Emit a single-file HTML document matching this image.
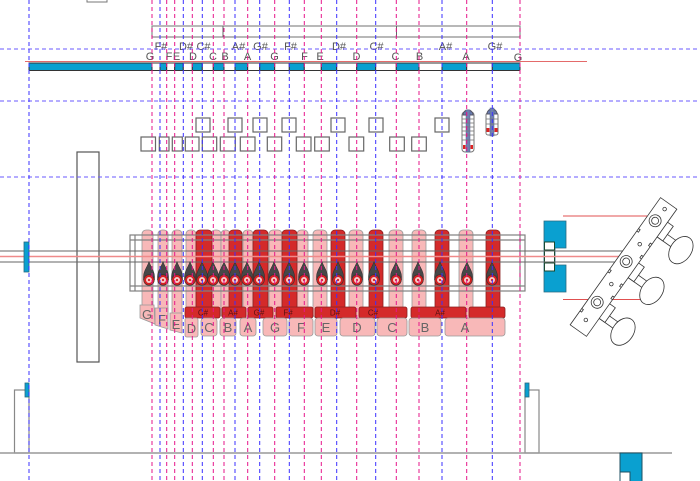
<!DOCTYPE html>
<html><head><meta charset="utf-8"><style>html,body{margin:0;padding:0;background:#fff;}svg{display:block;}</style></head>
<body>
<svg width="700" height="481" viewBox="0 0 700 481" xmlns="http://www.w3.org/2000/svg" xmlns:xlink="http://www.w3.org/1999/xlink" font-family="'Liberation Sans', Arial, sans-serif">
<defs>
<g id="peg">
<path d="M0,261.5 C1.2,266 5.5,271 5.5,276.5 L5.5,280 L-5.5,280 L-5.5,276.5 C-5.5,271 -1.2,266 0,261.5 Z" fill="#474747" stroke="#2a2a2a" stroke-width="0.5"/>
<circle cx="0" cy="280" r="5.3" fill="#d42020" stroke="#333" stroke-width="0.6"/>
<circle cx="0" cy="280" r="3" fill="#f8c8c8"/>
<circle cx="0" cy="280" r="1.1" fill="#d42020"/>
</g>
</defs>

<!-- top small rect -->
<rect x="87" y="-5" width="20" height="7" fill="#fff" stroke="#777"/>
<!-- top rect -->
<rect x="152" y="26" width="368" height="11" fill="#fff" stroke="#888" stroke-width="1.2"/>
<line x1="223" y1="26" x2="223" y2="37" stroke="#666"/>
<line x1="396.5" y1="26" x2="396.5" y2="37" stroke="#666"/>

<!-- top bar segments -->
<g stroke="#333" stroke-width="1">
<rect x="29" y="63" width="123" height="7.5" fill="#0aa0d0"/>
<rect x="152" y="63" width="8" height="7.5" fill="#fff"/>
<rect x="160" y="63" width="6.7" height="7.5" fill="#0aa0d0"/>
<rect x="166.7" y="63" width="8" height="7.5" fill="#fff"/>
<rect x="174.7" y="63" width="8.6" height="7.5" fill="#0aa0d0"/>
<rect x="183.3" y="63" width="9" height="7.5" fill="#fff"/>
<rect x="192.3" y="63" width="10" height="7.5" fill="#0aa0d0"/>
<rect x="202.3" y="63" width="11" height="7.5" fill="#fff"/>
<rect x="213.3" y="63" width="10.7" height="7.5" fill="#0aa0d0"/>
<rect x="224" y="63" width="11" height="7.5" fill="#fff"/>
<rect x="235" y="63" width="12.7" height="7.5" fill="#0aa0d0"/>
<rect x="247.7" y="63" width="12" height="7.5" fill="#fff"/>
<rect x="259.7" y="63" width="15" height="7.5" fill="#0aa0d0"/>
<rect x="274.7" y="63" width="14.6" height="7.5" fill="#fff"/>
<rect x="289.3" y="63" width="15" height="7.5" fill="#0aa0d0"/>
<rect x="304.3" y="63" width="17" height="7.5" fill="#fff"/>
<rect x="321.3" y="63" width="15.4" height="7.5" fill="#0aa0d0"/>
<rect x="336.7" y="63" width="20" height="7.5" fill="#fff"/>
<rect x="356.7" y="63" width="19" height="7.5" fill="#0aa0d0"/>
<rect x="375.7" y="63" width="20.6" height="7.5" fill="#fff"/>
<rect x="396.3" y="63" width="22.7" height="7.5" fill="#0aa0d0"/>
<rect x="419" y="63" width="23" height="7.5" fill="#fff"/>
<rect x="442" y="63" width="24.7" height="7.5" fill="#0aa0d0"/>
<rect x="466.7" y="63" width="25.6" height="7.5" fill="#fff"/>
<rect x="492.3" y="63" width="27.7" height="7.5" fill="#0aa0d0"/>
</g>
<line x1="25" y1="61.5" x2="587" y2="61.5" stroke="#e46a6a" stroke-width="1"/>

<!-- top labels -->
<g font-size="11" fill="#555" text-anchor="middle">
<text x="161" y="50">F#</text><text x="186" y="50">D#</text><text x="203.5" y="50">C#</text>
<text x="238.5" y="50">A#</text><text x="260.5" y="50">G#</text><text x="290.5" y="50">F#</text>
<text x="339" y="50">D#</text><text x="376.5" y="50">C#</text><text x="445.5" y="50">A#</text>
<text x="495" y="50">G#</text>
<text x="150" y="60">G</text><text x="169" y="60">F</text><text x="176.5" y="60">E</text>
<text x="193" y="60">D</text><text x="213" y="60">C</text><text x="225" y="60">B</text>
<text x="247.5" y="60">A</text><text x="274.5" y="60">G</text><text x="304.5" y="60">F</text>
<text x="320" y="60">E</text><text x="356.5" y="60">D</text><text x="395.5" y="60">C</text>
<text x="419.5" y="60">B</text><text x="466" y="60">A</text><text x="518" y="61">G</text>
</g>

<!-- middle boxes -->
<g fill="#fff" stroke="#666" stroke-width="1.2">
<rect x="196" y="118" width="14" height="14"/><rect x="228" y="118" width="14" height="14"/>
<rect x="253" y="118" width="14" height="14"/><rect x="282" y="118" width="14" height="14"/>
<rect x="331" y="118" width="14" height="14"/><rect x="369" y="118" width="14" height="14"/>
<rect x="435" y="118" width="14" height="14"/>
<rect x="141" y="137" width="14.5" height="14"/><rect x="159.3" y="137" width="9.7" height="14"/>
<rect x="172.3" y="137" width="10" height="14"/><rect x="185.3" y="137" width="13.7" height="14"/>
<rect x="202.3" y="137" width="14.4" height="14"/><rect x="220.3" y="137" width="15" height="14"/>
<rect x="240.3" y="137" width="14.7" height="14"/><rect x="267.3" y="137" width="14.4" height="14"/>
<rect x="296.3" y="137" width="14.7" height="14"/><rect x="314.7" y="137" width="14.6" height="14"/>
<rect x="349" y="137" width="14.7" height="14"/><rect x="389.7" y="137" width="14.6" height="14"/>
<rect x="411.7" y="137" width="14.6" height="14"/>
</g>

<!-- tall tuner -->
<rect x="462" y="112" width="12" height="40" rx="3" fill="#fff" stroke="#777"/>
<path d="M463,115 A5,5 0 0 1 473,115 Z" fill="#6b7fb3" stroke="#556"/>
<rect x="466" y="110" width="4" height="42" fill="#7080b0" stroke="#506090" stroke-width="0.5"/>
<g stroke="#777" stroke-width="0.8"><line x1="462" y1="119" x2="474" y2="119"/><line x1="462" y1="123" x2="474" y2="123"/><line x1="462" y1="127" x2="474" y2="127"/><line x1="462" y1="131" x2="474" y2="131"/><line x1="462" y1="135" x2="474" y2="135"/><line x1="462" y1="140" x2="474" y2="140"/></g>
<rect x="463" y="145" width="2.5" height="4" fill="#d22"/><rect x="470.5" y="145" width="2.5" height="4" fill="#d22"/>
<!-- short tuner -->
<rect x="486" y="113" width="12" height="22" rx="2" fill="#fff" stroke="#777"/>
<path d="M487,114 A5,5 0 0 1 497,114 Z" fill="#6b7fb3" stroke="#556"/>
<rect x="490" y="108" width="4" height="28" fill="#7080b0" stroke="#506090" stroke-width="0.5"/>
<g stroke="#777" stroke-width="0.8"><line x1="486" y1="119" x2="498" y2="119"/><line x1="486" y1="124" x2="498" y2="124"/></g>
<rect x="486.5" y="128" width="3" height="4" fill="#d22"/><rect x="494.5" y="128" width="3" height="4" fill="#d22"/>

<!-- tall left rect -->
<rect x="77" y="152" width="22" height="210" fill="#fff" stroke="#555" stroke-width="1.2"/>

<!-- pink vertical bars -->
<g fill="#f8b8b8" stroke="#999" stroke-width="0.8">
<rect x="142" y="230" width="11" height="88" rx="4"/>
<rect x="158" y="230" width="10" height="88" rx="4"/>
<rect x="172" y="230" width="10" height="88" rx="4"/>
<rect x="186" y="230" width="10" height="88" rx="4"/>
<rect x="211" y="230" width="10" height="88" rx="4"/>
<rect x="221" y="230" width="9" height="88" rx="4"/>
<rect x="243" y="230" width="10" height="88" rx="4"/>
<rect x="269" y="230" width="13" height="88" rx="4"/>
<rect x="297" y="230" width="11" height="88" rx="4"/>
<rect x="313" y="230" width="14" height="88" rx="4"/>
<rect x="349" y="230" width="14" height="88" rx="4"/>
<rect x="389" y="230" width="14" height="88" rx="4"/>
<rect x="412" y="230" width="14" height="88" rx="4"/>
<rect x="459" y="230" width="14" height="88" rx="4"/>
</g>
<!-- red vertical bars -->
<g fill="#d42a2a" stroke="#8a2020" stroke-width="0.8">
<rect x="196" y="230" width="16" height="82" rx="4"/>
<rect x="229" y="230" width="13" height="82" rx="4"/>
<rect x="253" y="230" width="15" height="82" rx="4"/>
<rect x="282" y="230" width="15" height="82" rx="4"/>
<rect x="331" y="230" width="14" height="82" rx="4"/>
<rect x="369" y="230" width="14" height="82" rx="4"/>
<rect x="435" y="230" width="14" height="82" rx="4"/>
<rect x="486" y="230" width="14" height="82" rx="4"/>
</g>
<!-- red label bars -->
<g fill="#d42a2a" stroke="#8a2020" stroke-width="0.8">
<rect x="185" y="307" width="35" height="11" rx="2"/>
<rect x="222" y="307" width="24" height="11" rx="2"/>
<rect x="248" y="307" width="25" height="11" rx="2"/>
<rect x="276" y="307" width="37" height="11" rx="2"/>
<rect x="315" y="307" width="41" height="11" rx="2"/>
<rect x="359" y="307" width="48" height="11" rx="2"/>
<rect x="411" y="307" width="55" height="11" rx="2"/>
<rect x="469" y="307" width="36" height="11" rx="2"/>
</g>
<g font-size="8" fill="#5a1010" text-anchor="middle">
<text x="203" y="315.5">C#</text><text x="233" y="315.5">A#</text><text x="259" y="315.5">G#</text>
<text x="288" y="315.5">F#</text><text x="335" y="315.5">D#</text><text x="373" y="315.5">C#</text>
<text x="440" y="315.5">A#</text>
</g>
<!-- pink label boxes -->
<g fill="#f8b8b8" stroke="#999" stroke-width="0.8">
<polygon points="140,305 154,305 155,324 140,318"/>
<polygon points="155,308 168,308 168,329 155,325"/>
<polygon points="170,313 182,313 182,333 170,330"/>
<rect x="185" y="318" width="13" height="19" rx="2"/>
<rect x="201" y="318" width="16" height="18" rx="3"/>
<rect x="220" y="318" width="16" height="18" rx="3"/>
<rect x="240" y="318" width="16" height="18" rx="3"/>
<rect x="263" y="318" width="24" height="18" rx="3"/>
<rect x="289" y="318" width="24" height="18" rx="3"/>
<rect x="315" y="318" width="22" height="18" rx="3"/>
<rect x="340" y="318" width="35" height="18" rx="3"/>
<rect x="377" y="318" width="30" height="18" rx="3"/>
<rect x="409" y="318" width="32" height="18" rx="3"/>
<rect x="445" y="318" width="60" height="18" rx="3"/>
</g>
<g font-size="13" fill="#666" text-anchor="middle">
<text x="147" y="319">G</text><text x="162" y="324">F</text><text x="176" y="329">E</text>
<text x="191.5" y="333">D</text><text x="209" y="332">C</text><text x="228" y="332">B</text>
<text x="248" y="332">A</text><text x="275" y="332">G</text><text x="301" y="332">F</text>
<text x="326" y="332">E</text><text x="357" y="332">D</text><text x="392" y="332">C</text>
<text x="425" y="332">B</text><text x="465" y="332">A</text>
</g>

<!-- frame -->
<g fill="none" stroke="#808080" stroke-width="1.2">
<rect x="130" y="235" width="395" height="56"/>
<line x1="130" y1="240" x2="525" y2="240"/>
<line x1="130" y1="286" x2="525" y2="286"/>
<line x1="135" y1="235" x2="135" y2="291"/>
<line x1="520" y1="235" x2="520" y2="291"/>
</g>

<!-- right blue block -->
<path d="M544,221 H566 V248 H555 V265 H566 V292 H544 Z" fill="#0aa0d0" stroke="#2a6a80" stroke-width="0.8"/>
<rect x="544.5" y="242" width="10" height="29" fill="#fff" stroke="#1a4a30" stroke-width="1"/>
<line x1="544.5" y1="250" x2="554.5" y2="250" stroke="#1a4a30"/>
<line x1="544.5" y1="263" x2="554.5" y2="263" stroke="#1a4a30"/>

<!-- rod -->
<line x1="0" y1="251" x2="628" y2="251" stroke="#666" stroke-width="1"/>
<line x1="0" y1="262" x2="628" y2="262" stroke="#666" stroke-width="1"/>
<line x1="0" y1="256.5" x2="628" y2="256.5" stroke="#ef8a8a" stroke-width="1.5"/>
<rect x="24" y="242" width="5" height="30" fill="#0aa0d0" stroke="#2a6a80" stroke-width="0.8"/>

<!-- pegs -->
<use href="#peg" xlink:href="#peg" x="149"/><use href="#peg" xlink:href="#peg" x="163"/>
<use href="#peg" xlink:href="#peg" x="177"/><use href="#peg" xlink:href="#peg" x="190"/>
<use href="#peg" xlink:href="#peg" x="202"/><use href="#peg" xlink:href="#peg" x="213"/>
<use href="#peg" xlink:href="#peg" x="224"/><use href="#peg" xlink:href="#peg" x="235"/>
<use href="#peg" xlink:href="#peg" x="247"/><use href="#peg" xlink:href="#peg" x="259"/>
<use href="#peg" xlink:href="#peg" x="274"/><use href="#peg" xlink:href="#peg" x="289"/>
<use href="#peg" xlink:href="#peg" x="304"/><use href="#peg" xlink:href="#peg" x="322"/>
<use href="#peg" xlink:href="#peg" x="338"/><use href="#peg" xlink:href="#peg" x="357"/>
<use href="#peg" xlink:href="#peg" x="374"/><use href="#peg" xlink:href="#peg" x="396"/>
<use href="#peg" xlink:href="#peg" x="418"/><use href="#peg" xlink:href="#peg" x="440"/>
<use href="#peg" xlink:href="#peg" x="467"/><use href="#peg" xlink:href="#peg" x="492"/>

<!-- red lines near tuner -->
<line x1="563" y1="216" x2="647" y2="216" stroke="#e05050" stroke-width="1"/>
<line x1="563" y1="299.5" x2="655" y2="299.5" stroke="#e05050" stroke-width="1"/>

<!-- tuner plate -->
<g transform="translate(623.5,267) rotate(35.4)" stroke="#333" stroke-width="0.8" fill="#fff">
<rect x="8" y="-52" width="26" height="8"/>
<rect x="8" y="-2" width="26" height="8"/>
<rect x="8" y="48" width="26" height="8"/>
<ellipse cx="37" cy="-47" rx="10.5" ry="15"/>
<ellipse cx="37" cy="3" rx="10.5" ry="15"/>
<ellipse cx="37" cy="53" rx="10.5" ry="15"/>
<rect x="8" y="-62" width="9" height="18"/>
<rect x="8" y="-12" width="9" height="18"/>
<rect x="8" y="38" width="9" height="18"/>
<rect x="-10" y="-78" width="20" height="156"/>
<circle cx="-1" cy="-56" r="6"/><circle cx="-1" cy="-56" r="3.5"/>
<circle cx="-1" cy="-6" r="6"/><circle cx="-1" cy="-6" r="3.5"/>
<circle cx="-1" cy="44" r="6"/><circle cx="-1" cy="44" r="3.5"/>
<circle cx="0" cy="-71" r="1.8"/><circle cx="0" cy="-28" r="1.8"/>
<circle cx="0" cy="21" r="1.8"/><circle cx="0" cy="65" r="1.8"/>
<g fill="none"><path d="M-10,-40 h2 v3 h-2"/><path d="M-10,10 h2 v3 h-2"/><path d="M-10,58 h2 v3 h-2"/><path d="M10,-35 h-2 v3 h2"/><path d="M10,15 h-2 v3 h2"/><path d="M10,-20 h-2 v3 h2"/><path d="M10,30 h-2 v3 h2"/></g>
</g>

<!-- bottom -->
<rect x="14.5" y="390" width="14.5" height="63" fill="#fff" stroke="#888" stroke-width="1.2"/>
<rect x="25" y="383" width="4" height="14" fill="#0aa0d0" stroke="#2a6a80" stroke-width="0.8"/>
<rect x="525" y="390" width="14" height="63" fill="#fff" stroke="#888" stroke-width="1.2"/>
<rect x="525" y="383" width="4" height="14" fill="#0aa0d0" stroke="#2a6a80" stroke-width="0.8"/>
<line x1="0" y1="453" x2="672" y2="453" stroke="#999" stroke-width="1.5"/>
<rect x="620" y="453" width="22" height="30" fill="#0aa0d0" stroke="#1f4f60" stroke-width="1"/>
<rect x="620" y="472" width="10" height="10" fill="#fff" stroke="#1f4f60" stroke-width="1"/>

<!-- horizontal dashed guides -->
<g stroke="#6a5aff" stroke-width="1" stroke-dasharray="4 3">
<line x1="0" y1="49" x2="700" y2="49"/>
<line x1="0" y1="101" x2="700" y2="101"/>
<line x1="0" y1="177" x2="700" y2="177"/>
</g>
<!-- vertical dashed guides -->
<g stroke="#e6168a" stroke-width="1" stroke-dasharray="4 3">
<line x1="152" y1="0" x2="152" y2="481"/><line x1="166.7" y1="0" x2="166.7" y2="481"/>
<line x1="174.7" y1="0" x2="174.7" y2="481"/><line x1="192.3" y1="0" x2="192.3" y2="481"/>
<line x1="213.3" y1="0" x2="213.3" y2="481"/><line x1="224" y1="0" x2="224" y2="481"/>
<line x1="247.7" y1="0" x2="247.7" y2="481"/><line x1="274.7" y1="0" x2="274.7" y2="481"/>
<line x1="304.3" y1="0" x2="304.3" y2="481"/><line x1="321.3" y1="0" x2="321.3" y2="481"/>
<line x1="356.7" y1="0" x2="356.7" y2="481"/><line x1="396.3" y1="0" x2="396.3" y2="481"/>
<line x1="419" y1="0" x2="419" y2="481"/><line x1="466.7" y1="0" x2="466.7" y2="481"/>
<line x1="520" y1="0" x2="520" y2="481"/>
</g>
<g stroke="#3b30ff" stroke-width="1" stroke-dasharray="4 3">
<line x1="29" y1="0" x2="29" y2="481"/><line x1="160" y1="0" x2="160" y2="481"/>
<line x1="183.3" y1="0" x2="183.3" y2="481"/><line x1="202.3" y1="0" x2="202.3" y2="481"/>
<line x1="235" y1="0" x2="235" y2="481"/><line x1="259.7" y1="0" x2="259.7" y2="481"/>
<line x1="289.3" y1="0" x2="289.3" y2="481"/><line x1="336.7" y1="0" x2="336.7" y2="481"/>
<line x1="375.7" y1="0" x2="375.7" y2="481"/><line x1="442" y1="0" x2="442" y2="481"/>
<line x1="492.3" y1="0" x2="492.3" y2="481"/>
</g>
</svg>
</body></html>
